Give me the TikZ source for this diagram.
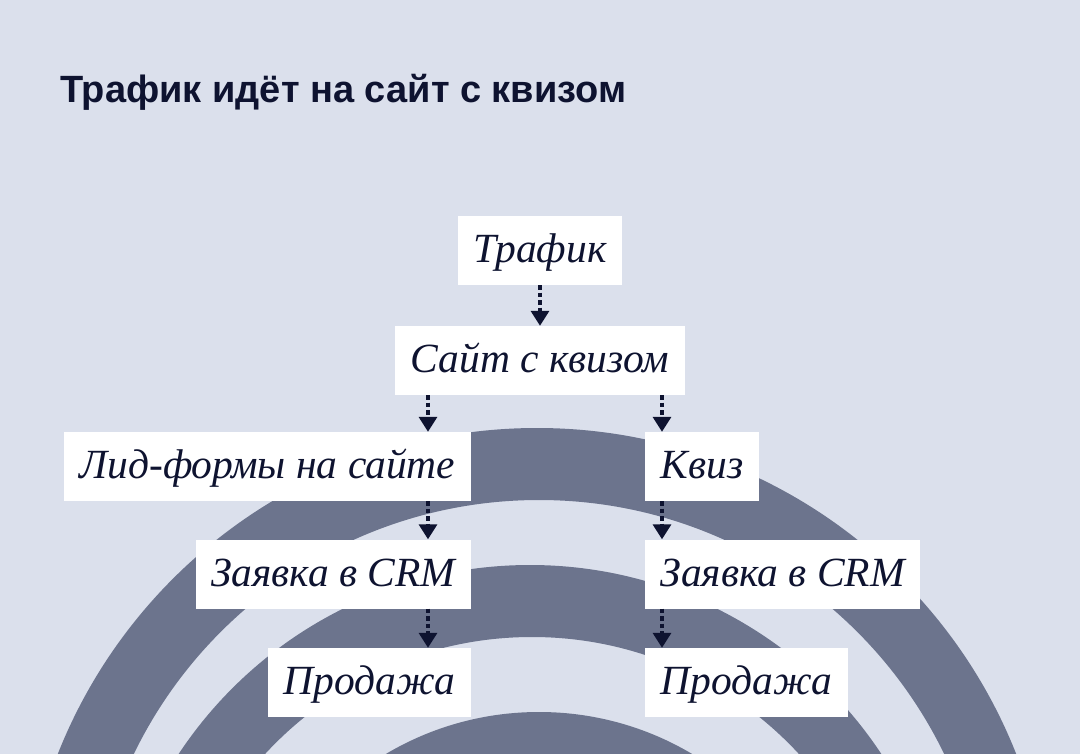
\documentclass[tikz,border=0pt]{standalone}
\usepackage{fontspec}
\setmainfont{Liberation Serif}
\newfontfamily\titlefont{Liberation Sans}
\usetikzlibrary{arrows.meta}
\definecolor{bgc}{RGB}{219,224,236}
\definecolor{bandc}{RGB}{108,116,141}
\definecolor{navy}{RGB}{14,19,48}
\begin{document}
\begin{tikzpicture}[x=1pt,y=-1pt,
  box/.style={fill=white, inner xsep=15.5pt, inner ysep=0pt, minimum height=69pt,
    text height=32pt, text depth=8pt, font=\fontsize{41.5}{48}\selectfont\itshape, text=navy},
  arr/.style={draw=navy, line width=3.4pt, dash pattern=on 4.5pt off 3pt,
    -{Triangle[width=18pt,length=15pt]}}]
\useasboundingbox (0,0) rectangle (1080,754);
\fill[bgc] (0,0) rectangle (1080,754);
\begin{scope}
\clip (0,0) rectangle (1080,754);
\fill[bandc, even odd rule] (537,943) circle[radius=515pt] (539,950) circle[radius=450pt];
\fill[bandc, even odd rule] (530,986) circle[radius=421pt] (532,1000) circle[radius=363pt];
\fill[bandc] (539,1012) circle[radius=300pt];
\end{scope}
\node[anchor=base west, font=\titlefont\bfseries\fontsize{38}{44}\selectfont, text=navy, inner sep=0pt] (title) at (60,102.7) {Трафик идёт на сайт с квизом};
\node[box] (traffic) at (540,250.5) {Трафик};
\node[box] (site) at (540,360.5) {Сайт с квизом};
\node[box, anchor=east] (lid) at (471,466.5) {Лид-формы на сайте};
\node[box, anchor=west] (quiz) at (645,466.5) {Квиз};
\node[box, anchor=east] (crmL) at (471,574) {Заявка в CRM};
\node[box, anchor=west] (crmR) at (645,574) {Заявка в CRM};
\node[box, anchor=east] (saleL) at (471,682.5) {Продажа};
\node[box, anchor=west] (saleR) at (645,682.5) {Продажа};
\coordinate (lx) at (428,0);
\coordinate (rx) at (662,0);
\draw[arr] (traffic.south) -- (site.north);
\draw[arr] (site.south -| lx) -- (lid.north -| lx);
\draw[arr] (lid.south -| lx) -- (crmL.north -| lx);
\draw[arr] (crmL.south -| lx) -- (saleL.north -| lx);
\draw[arr] (site.south -| rx) -- (quiz.north -| rx);
\draw[arr] (quiz.south -| rx) -- (crmR.north -| rx);
\draw[arr] (crmR.south -| rx) -- (saleR.north -| rx);
\end{tikzpicture}
\end{document}
